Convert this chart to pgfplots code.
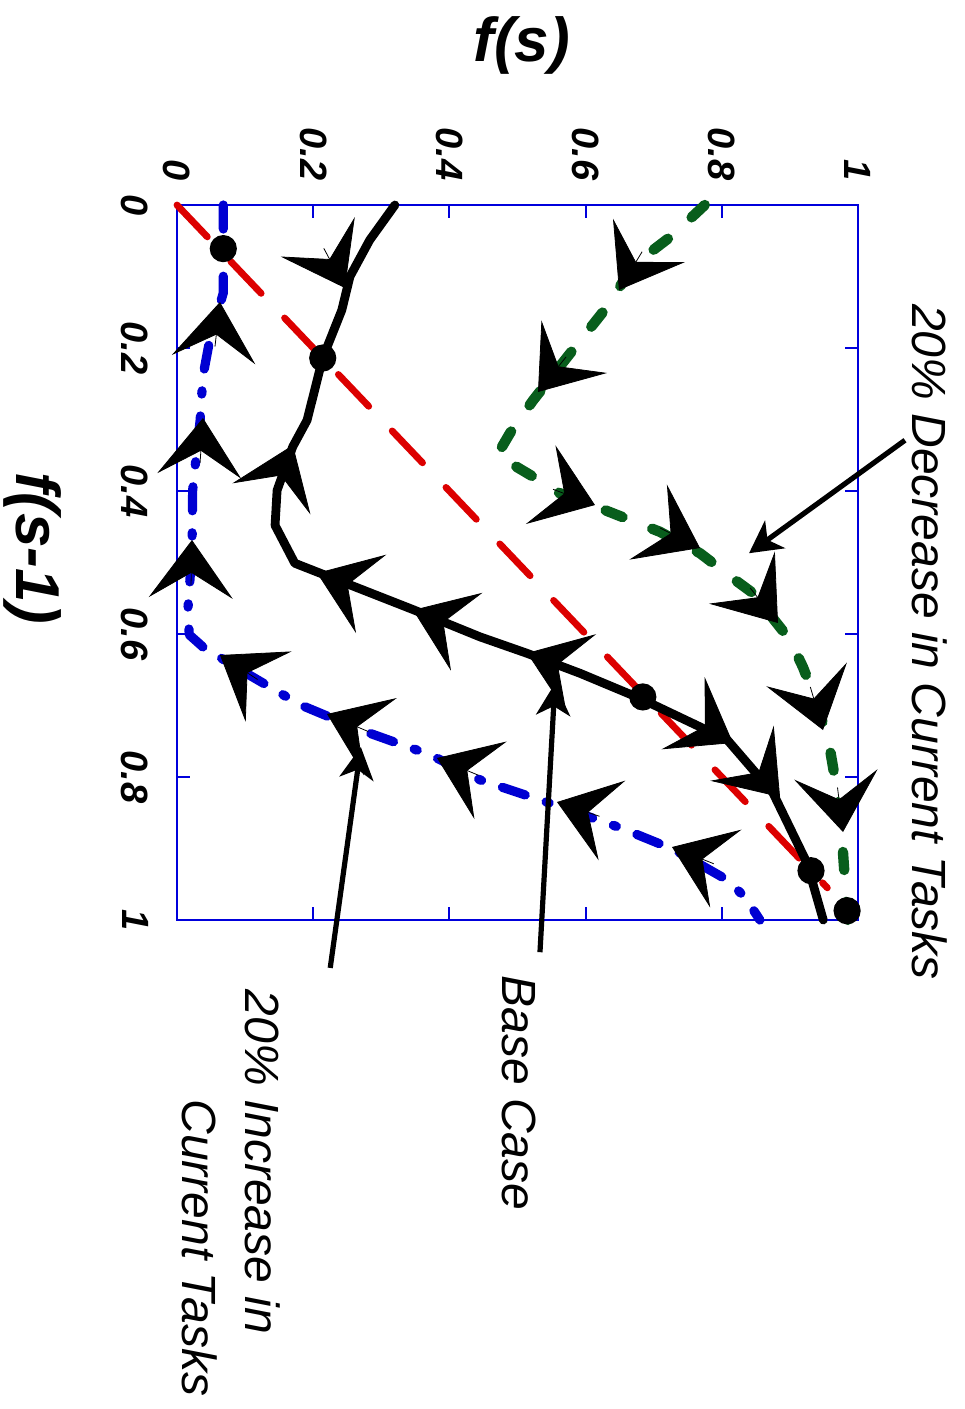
\documentclass[border=0pt]{standalone}
\usepackage{fontspec}
\setmainfont{Liberation Sans}
\usepackage{pgfplots}
\pgfplotsset{compat=1.18}
\usetikzlibrary{arrows.meta}

\definecolor{axisblue}{RGB}{0,0,220}
\definecolor{curveblue}{RGB}{0,0,210}
\definecolor{curvered}{RGB}{220,0,0}
\definecolor{curvegreen}{RGB}{8,94,28}

% big direction heads along the curves, short shaft hidden under the head
\tikzset{flowhead/.style={-{Stealth[length=14.5pt,width=21pt,inset=6.3pt]}, black, line width=0.2pt, solid},
  callout/.style={-{Stealth[length=8pt,width=8.5pt,inset=2.3pt]}, black, line width=1.3pt, overlay},
  lbl/.style={overlay, inner sep=0pt}}

\begin{document}
\begin{tikzpicture}
\begin{axis}[
  scale only axis, width=170.25pt, height=178.75pt,
  xmin=0, xmax=1, ymin=0, ymax=1, y dir=reverse,
  clip=false,
  axis line style={axisblue, line width=0.5pt},
  tick style={axisblue, line width=0.5pt},
  tick align=inside, major tick length=3.2pt,
  xtick={0,0.2,0.4,0.6,0.8,1}, ytick={0,0.2,0.4,0.6,0.8,1},
  xticklabel pos=right,
  /pgf/number format/assume math mode=true,
  ticklabel style={font=\fontsize{9.5}{11}\selectfont\bfseries\itshape},
  xticklabel style={rotate=-90, anchor=east, inner xsep=6pt, inner ysep=0pt},
  yticklabel style={rotate=-90, anchor=north, inner ysep=7pt, inner xsep=0pt},
]
% page frame
\path (axis cs:-0.2599,-0.2867) rectangle (axis cs:1.1557,1.6839);

% f(s) = f(s-1)
\addplot[curvered, line width=1.7pt, line cap=round, dash pattern=on 11pt off 8.5pt]
  coordinates {(0,0) (0.955,0.955)};

% 20% increase in current tasks
\addplot[curveblue, line width=2.3pt, line cap=round, line join=round,
  dash pattern=on 6pt off 5.5pt on 0.8pt off 5.5pt] coordinates {
  (0.068,0.000) (0.068,0.060) (0.068,0.123) (0.048,0.189) (0.038,0.240)
  (0.034,0.301) (0.026,0.371) (0.023,0.399) (0.022,0.483) (0.016,0.566)
  (0.018,0.601) (0.038,0.618) (0.093,0.650) (0.181,0.699) (0.269,0.734)
  (0.372,0.769) (0.445,0.804) (0.555,0.839) (0.651,0.871) (0.731,0.902)
  (0.808,0.944) (0.834,0.968) (0.856,1.000)};

% 20% decrease in current tasks
\addplot[curvegreen, line width=2.6pt, line cap=round, line join=round,
  dash pattern=on 4.5pt off 8pt] coordinates {
  (0.775,0.000) (0.728,0.042) (0.680,0.077) (0.665,0.091) (0.636,0.137)
  (0.581,0.203) (0.523,0.273) (0.489,0.319) (0.470,0.350) (0.523,0.380)
  (0.562,0.403) (0.621,0.424) (0.709,0.457) (0.768,0.487) (0.816,0.522)
  (0.846,0.543) (0.885,0.590) (0.900,0.608) (0.919,0.646) (0.940,0.697)
  (0.954,0.744) (0.959,0.762) (0.969,0.818) (0.978,0.906) (0.984,0.989)
  (0.985,1.000)};

% base case
\addplot[black, line width=2.2pt, line join=round, line cap=round] coordinates {
  (0.320,0.000) (0.283,0.049) (0.254,0.100) (0.242,0.147) (0.214,0.214)
  (0.191,0.301) (0.170,0.338) (0.147,0.399) (0.144,0.448) (0.173,0.501)
  (0.347,0.566) (0.445,0.604) (0.514,0.627) (0.592,0.655) (0.680,0.690)
  (0.808,0.748) (0.875,0.822) (0.925,0.920) (0.949,1.000)};

% direction heads (start point, offset to the tip)
\addplot[flowhead, quiver={u=\thisrow{u}, v=\thisrow{v}}] table {
x       y       u        v
0.2156  0.0606  0.0310   0.0555
0.1459  0.3939  0.0244  -0.0582
0.2669  0.5372 -0.0613  -0.0225
0.4075  0.5899 -0.0610  -0.0235
0.5756  0.6487 -0.0616  -0.0221
0.7598  0.7202  0.0566   0.0322
0.8424  0.7807  0.0431   0.0473
};
\addplot[flowhead, quiver={u=\thisrow{u}, v=\thisrow{v}}] table {
x       y       u        v
0.0558  0.1980  0.0073  -0.0623
0.0339  0.3605  0.0043  -0.0626
0.0206  0.5312  0.0014  -0.0627
0.1183  0.6636 -0.0552  -0.0342
0.2809  0.7364 -0.0606  -0.0245
0.4426  0.7975 -0.0608  -0.0241
0.6204  0.8549 -0.0624  -0.0199
0.7881  0.9213 -0.0612  -0.0234
};
\addplot[flowhead, quiver={u=\thisrow{u}, v=\thisrow{v}}] table {
x       y       u        v
0.6830  0.0653 -0.0340   0.0536
0.5713  0.2125 -0.0412   0.0490
0.5522  0.3976  0.0616   0.0220
0.7092  0.4517  0.0588   0.0280
0.8416  0.5355  0.0409   0.0491
0.9300  0.6741  0.0186   0.0602
0.9699  0.8147  0.0081   0.0622
};

% fixed points
\addplot[only marks, mark=*, mark size=3.2pt, black] coordinates {
  (0.068,0.061) (0.214,0.214) (0.684,0.688) (0.931,0.931) (0.984,0.987)};

% labels and callouts
\node[lbl, font=\fontsize{15.5}{17}\selectfont\bfseries\itshape] at (axis cs:0.506,-0.2238) {f(s)};
\node[lbl, font=\fontsize{15.5}{17}\selectfont\bfseries\itshape, rotate=-90] at (axis cs:-0.212,0.4797) {f(s-1)};

\draw[callout] (axis cs:1.069,0.329) -- (axis cs:0.840,0.487);
\draw[callout] (axis cs:0.533,1.045) -- (axis cs:0.555,0.669);
\draw[callout] (axis cs:0.225,1.067) -- (axis cs:0.270,0.758);

\node[lbl, font=\fontsize{12}{14}\selectfont\itshape, rotate=-90] at (axis cs:1.1057,0.6112) {20\% Decrease in Current Tasks};
\node[lbl, font=\fontsize{12}{14}\selectfont\itshape, rotate=-90] at (axis cs:0.5022,1.2420) {Base Case};
\node[lbl, font=\fontsize{12}{14}\selectfont\itshape, rotate=-90] at (axis cs:0.1263,1.3385) {20\% Increase in};
\node[lbl, font=\fontsize{12}{14}\selectfont\itshape, rotate=-90] at (axis cs:0.0338,1.4587) {Current Tasks};
\end{axis}
\end{tikzpicture}
\end{document}
